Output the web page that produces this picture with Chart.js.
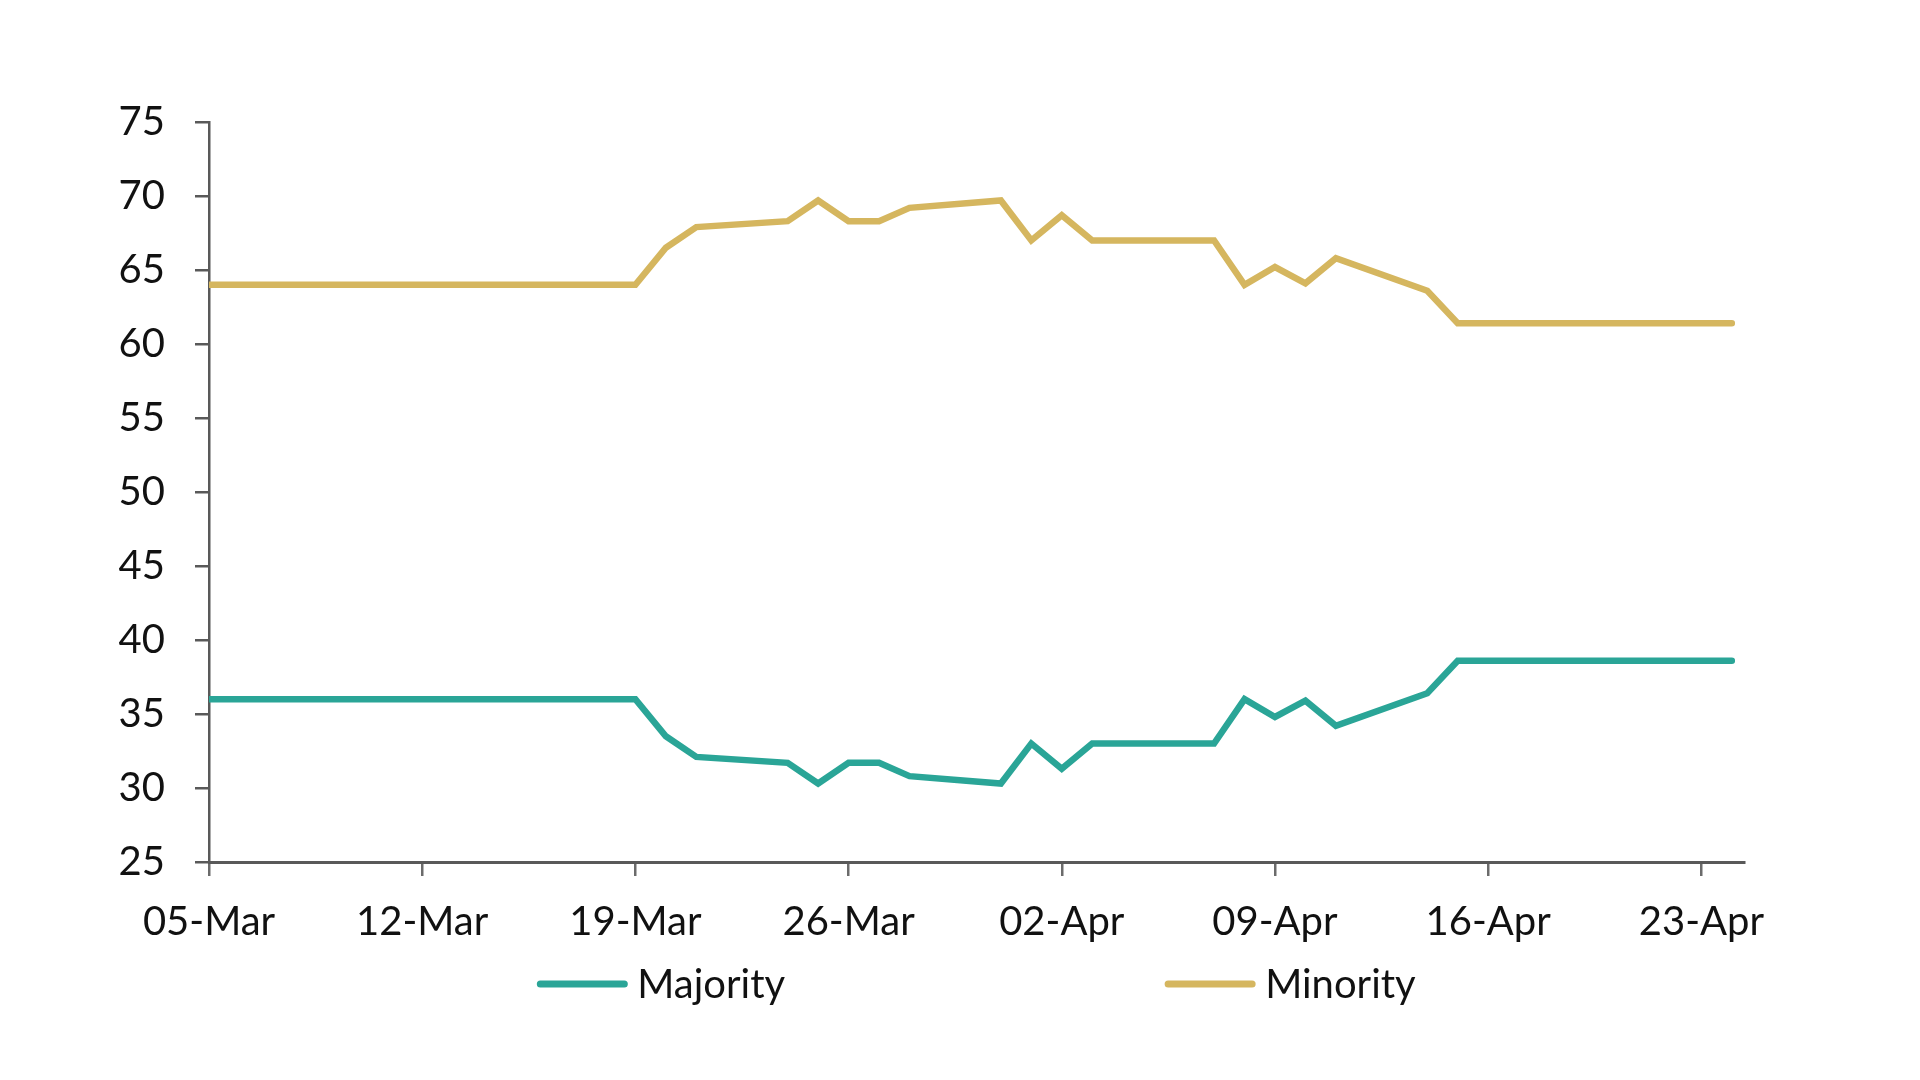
<!DOCTYPE html>
<html>
<head>
<meta charset="utf-8">
<title>Majority / Minority</title>
<script src="https://cdn.jsdelivr.net/npm/chart.js@4.4.1/dist/chart.umd.min.js"></script>
<style>
    html, body { margin: 0; padding: 0; background: #ffffff; }
    #wrap { width: 1920px; height: 1080px; }
</style>
</head>
<body>
<div id="wrap"><canvas id="shareChart"></canvas></div>
<script>
// observation dates (only the days where the lines change direction)
const dates = ['05-Mar', '19-Mar', '20-Mar', '21-Mar', '24-Mar', '25-Mar', '26-Mar', '27-Mar',
               '28-Mar', '31-Mar', '01-Apr', '02-Apr', '03-Apr', '07-Apr', '08-Apr', '09-Apr',
               '10-Apr', '11-Apr', '14-Apr', '15-Apr', '24-Apr'];
const majority = [36.0, 36.0, 33.5, 32.1, 31.7, 30.3, 31.7, 31.7, 30.8, 30.3, 33.0,
                  31.3, 33.0, 33.0, 36.0, 34.8, 35.9, 34.2, 36.4, 38.6, 38.6];
const minority = [64.0, 64.0, 66.5, 67.9, 68.3, 69.7, 68.3, 68.3, 69.2, 69.7, 67.0,
                  68.7, 67.0, 67.0, 64.0, 65.2, 64.1, 65.8, 63.6, 61.4, 61.4];
const tickLabels = ['05-Mar', '12-Mar', '19-Mar', '26-Mar', '02-Apr', '09-Apr', '16-Apr', '23-Apr'];
const seriesNames = ['Majority', 'Minority'];
const seriesColors = ['#2aa597', '#d5b65f'];

const FONT = 'Lato, "Open Sans", sans-serif';
const FONT_SIZE = 40;
const monthIndex = { Mar: 2, Apr: 3 };

// days since the first date, so the x axis behaves like a date axis
function dayOffset(label) {
    const parts = label.split('-');
    const t = Date.UTC(2020, monthIndex[parts[1]], parseInt(parts[0], 10));
    return Math.round((t - Date.UTC(2020, 2, 5)) / 86400000);
}

function toPoints(values) {
    return values.map((v, i) => ({ x: dayOffset(dates[i]), y: v }));
}

// legend drawn under the plot with the wide spacing of the original
const bottomLegend = {
    id: 'bottomLegend',
    afterDraw(chart) {
        const ctx = chart.ctx;
        const area = chart.chartArea;
        const sets = chart.data.datasets;
        const sample = 90, textGap = 10, itemGap = 380;
        ctx.save();
        ctx.font = FONT_SIZE + 'px ' + FONT;
        ctx.textBaseline = 'middle';
        const widths = sets.map(ds => sample + textGap + ctx.measureText(ds.label).width);
        const total = widths.reduce((a, b) => a + b, 0) + itemGap * (sets.length - 1);
        let x = (area.left + area.right) / 2 - total / 2;
        const y = area.bottom + 122;
        sets.forEach((ds, i) => {
            ctx.strokeStyle = ds.borderColor;
            ctx.lineWidth = 7;
            ctx.lineCap = 'round';
            ctx.beginPath();
            ctx.moveTo(x + 3, y);
            ctx.lineTo(x + sample - 3, y);
            ctx.stroke();
            ctx.fillStyle = '#111111';
            ctx.fillText(ds.label, x + sample + textGap, y + 1);
            x += widths[i] + itemGap;
        });
        ctx.restore();
    }
};

const ctx = document.getElementById('shareChart').getContext('2d');
const chart = new Chart(ctx, {
    type: 'line',
    data: {
        datasets: [
            {
                label: seriesNames[0],
                data: toPoints(majority),
                borderColor: seriesColors[0],
                backgroundColor: seriesColors[0],
                borderWidth: 6.5,
                borderCapStyle: 'round',
                pointRadius: 0,
                tension: 0
            },
            {
                label: seriesNames[1],
                data: toPoints(minority),
                borderColor: seriesColors[1],
                backgroundColor: seriesColors[1],
                borderWidth: 6.5,
                borderCapStyle: 'round',
                pointRadius: 0,
                tension: 0
            }
        ]
    },
    options: {
        responsive: true,
        maintainAspectRatio: false,
        animation: false,
        layout: { padding: { top: 122, right: 176, bottom: 0, left: 0 } },
        plugins: {
            legend: { display: false },
            tooltip: { enabled: false }
        },
        scales: {
            x: {
                type: 'linear',
                min: 0,
                max: 50.4,
                afterFit: function(scale) { scale.height = 218; },
                border: { display: true, color: '#595959', width: 3 },
                grid: { drawOnChartArea: false, drawTicks: true, tickLength: 14, color: '#6b6b6b', lineWidth: 2.5 },
                ticks: {
                    stepSize: 7,
                    includeBounds: false,
                    maxRotation: 0,
                    autoSkip: false,
                    padding: 22,
                    color: '#111111',
                    font: { family: FONT, size: FONT_SIZE },
                    callback: function(value) {
                        return value % 7 === 0 ? tickLabels[value / 7] : '';
                    }
                }
            },
            y: {
                min: 25,
                max: 75,
                afterFit: function(scale) { scale.width = 209; },
                border: { display: true, color: '#595959', width: 2.5 },
                grid: { drawOnChartArea: false, drawTicks: true, tickLength: 14, color: '#595959', lineWidth: 2.5 },
                ticks: {
                    stepSize: 5,
                    padding: 30,
                    color: '#111111',
                    font: { family: FONT, size: FONT_SIZE }
                }
            }
        }
    },
    plugins: [bottomLegend]
});
</script>
</body>
</html>
